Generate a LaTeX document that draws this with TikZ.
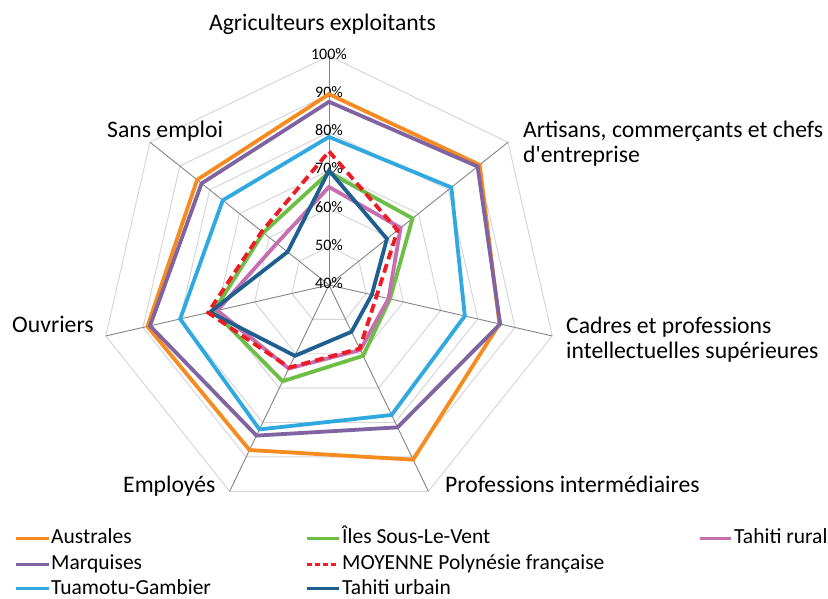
\documentclass[tikz,border=0pt]{standalone}
\usepackage{fontspec}
\setmainfont{Carlito}[Ligatures=TeXOff]
\definecolor{cAus}{HTML}{F68B1F}
\definecolor{cMar}{HTML}{8064A2}
\definecolor{cTua}{HTML}{2FA9E0}
\definecolor{cIsv}{HTML}{6CBE45}
\definecolor{cMoy}{HTML}{ED1C24}
\definecolor{cUrb}{HTML}{1F5F8F}
\definecolor{cRur}{HTML}{C56FB0}
\begin{document}
\begin{tikzpicture}[x=1pt,y=1pt,
  ring/.style={draw=black!17, line width=0.9pt},
  spoke/.style={draw=black!48, line width=0.9pt},
  series/.style={line width=3.8pt, line join=miter},
  aus/.style={series, draw=cAus},
  mar/.style={series, draw=cMar},
  tua/.style={series, draw=cTua},
  isv/.style={series, draw=cIsv},
  moy/.style={series, draw=cMoy, dash pattern=on 9pt off 5pt},
  urb/.style={series, draw=cUrb},
  rur/.style={series, draw=cRur},
  axlab/.style={font=\fontsize{23.7}{27}\selectfont, inner sep=0pt},
  ticklab/.style={font=\fontsize{16}{18}\selectfont, inner sep=0pt},
  leg/.style={font=\fontsize{21.5}{25}\selectfont, inner sep=0pt, anchor=base west}]
\useasboundingbox (0,0) rectangle (828,599);
\fill[white] (0,0) rectangle (828,599);
\coordinate (O) at (329,314);
\begin{scope}[shift={(O)}]
  % rings
  \foreach \L in {1,...,6} {
    \draw[ring] (90:{\L*38.1667}) \foreach \k in {1,...,6} { -- ({90-\k*360/7}:{\L*38.1667}) } -- cycle;
  }
  % spokes
  \foreach \k in {0,...,6} {
    \coordinate (ax\k) at ({90-\k*360/7}:229);
    \draw[spoke] (0,0) -- (ax\k);
  }
  % tick labels
  \foreach \v [count=\i from 0] in {40,50,...,100} {
    \node[ticklab] (tk\v) at (0,{\i*38.1667+2}) {\v\%};
  }
  % data points
  \foreach \nm/\vals in {
      aus/{90,90.5,85.8,90.8,88,88.8,84.2},
      mar/{88,89.8,86,81.4,83.8,88.1,82.7},
      tua/{78.8,81,76.5,77.8,82,80,75.6},
      isv/{69.5,68,56.4,60.6,68,71,62},
      moy/{75,63,52.8,58.5,64,72.5,62.5},
      urb/{70,59.4,51.5,53.6,60.6,72,53.9},
      rur/{65.7,64,56,58.9,64.3,70,57.5}} {
    \foreach \v [count=\k from 0] in \vals {
      \coordinate (\nm\k) at ({90-\k*360/7}:{(\v-40)*3.81667});
    }
  }
\end{scope}
% series
\foreach \nm in {aus,mar,tua,isv,rur,urb,moy} {
  \draw[\nm] (\nm0) -- (\nm1) -- (\nm2) -- (\nm3) -- (\nm4) -- (\nm5) -- (\nm6) -- cycle;
}
% axis labels
\node[axlab, anchor=base] (lAgr) at (322.5,568) {Agriculteurs exploitants};
\node[axlab, anchor=base west] (lArt1) at (523,461) {Artisans, commerçants et chefs};
\node[axlab, anchor=base west] (lArt2) at (523,436) {d'entreprise};
\node[axlab, anchor=base west] (lCad1) at (566,265) {Cadres et professions};
\node[axlab, anchor=base west] (lCad2) at (566,240) {intellectuelles supérieures};
\node[axlab, anchor=base west] (lPro) at (445,106) {Professions intermédiaires};
\node[axlab, anchor=base west] (lEmp) at (123,106) {Employés};
\node[axlab, anchor=base west] (lOuv) at (12,266) {Ouvriers};
\node[axlab, anchor=base west] (lSan) at (107,461) {Sans emploi};
% legend
\coordinate (g1a) at (16,60.5);  \coordinate (g1b) at (48.6,60.5);
\coordinate (g2a) at (16,34.5);  \coordinate (g2b) at (48.6,34.5);
\coordinate (g3a) at (16,10.4);  \coordinate (g3b) at (48.6,10.4);
\coordinate (g4a) at (307,60.5); \coordinate (g4b) at (339,60.5);
\coordinate (g5a) at (307,34.5); \coordinate (g5b) at (339,34.5);
\coordinate (g6a) at (307,10.4); \coordinate (g6b) at (339,10.4);
\coordinate (g7a) at (700,60.5); \coordinate (g7b) at (731,60.5);
\draw[aus] (g1a) -- (g1b);
\draw[mar] (g2a) -- (g2b);
\draw[tua] (g3a) -- (g3b);
\draw[isv] (g4a) -- (g4b);
\draw[moy, dash pattern=on 5pt off 3pt] (g5a) -- (g5b);
\draw[urb] (g6a) -- (g6b);
\draw[rur] (g7a) -- (g7b);
\node[leg] (n1) at (51,55) {Australes};
\node[leg] (n2) at (51,29) {Marquises};
\node[leg] (n3) at (51,4.8) {Tuamotu-Gambier};
\node[leg] (n4) at (342,55) {Îles Sous-Le-Vent};
\node[leg] (n5) at (342,29) {MOYENNE Polynésie française};
\node[leg] (n6) at (342,4.8) {Tahiti urbain};
\node[leg] (n7) at (734,55) {Tahiti rural};
\end{tikzpicture}
\end{document}
